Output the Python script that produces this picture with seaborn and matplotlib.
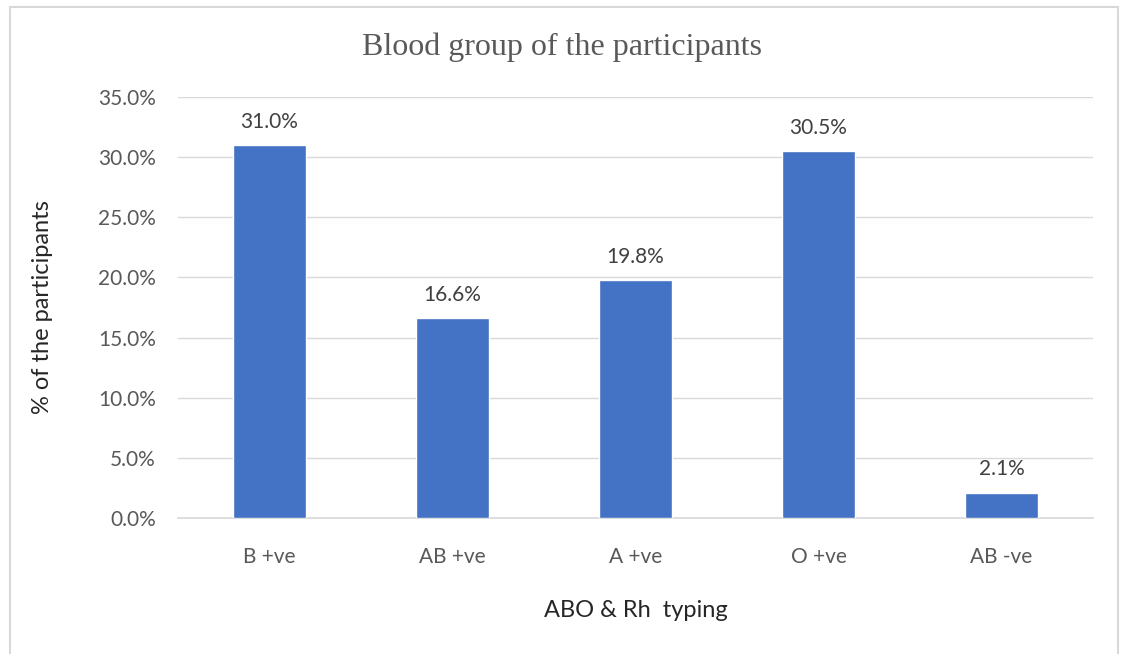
import matplotlib
matplotlib.use("Agg")
import matplotlib.pyplot as plt
import matplotlib.ticker as mticker
import pandas as pd
import seaborn as sns

groups = ["B +ve", "AB +ve", "A +ve", "O +ve", "AB -ve"]
percent = [31.0, 16.6, 19.8, 30.5, 2.1]

def main():
    sns.set_theme(style="white")
    plt.rcParams["font.family"] = ["Lato", "DejaVu Sans"]

    df = pd.DataFrame({"group": groups, "percent": percent})

    fig = plt.figure(figsize=(11.24, 6.54), dpi=100)
    ax = fig.add_axes([0.1584, 0.208, 0.814, 0.6437])

    sns.barplot(data=df, x="group", y="percent", color="#4472C4", width=0.4,
                saturation=1, ax=ax, zorder=3)

    ax.set_ylim(0, 35)
    ax.yaxis.set_major_locator(mticker.MultipleLocator(5))
    ax.yaxis.set_major_formatter(mticker.FuncFormatter(lambda v, _: f"{v:.1f}%"))
    ax.grid(axis="y", color="#d9d9d9", linewidth=1, zorder=0)
    for s in ["top", "right", "left"]:
        ax.spines[s].set_visible(False)
    ax.spines["bottom"].set_color("#d9d9d9")
    ax.tick_params(axis="both", length=0, labelsize=15, colors="#595959")
    ax.tick_params(axis="x", pad=21)
    ax.tick_params(axis="y", pad=16)

    for i, v in enumerate(percent):
        ax.text(i, v + 1.1, f"{v:.1f}%", ha="center", va="bottom",
                fontsize=15, color="#404040")

    ax.set_xlabel("ABO & Rh  typing", fontsize=17, color="#262626", labelpad=24)
    ax.set_ylabel("% of the participants", fontsize=17, color="#262626", labelpad=32)
    fig.text(0.5, 0.927, "Blood group of the participants", ha="center", va="center",
             fontsize=23, color="#595959", family=["Liberation Serif", "DejaVu Serif"])

    # outer frame
    fig.patches.append(plt.Rectangle((0.009, -0.01), 0.986, 0.999, transform=fig.transFigure,
                                     fill=False, edgecolor="#d9d9d9", linewidth=1.5))

    fig.savefig("out.png", dpi=100)
    plt.close(fig)

if __name__ == "__main__":
    main()
